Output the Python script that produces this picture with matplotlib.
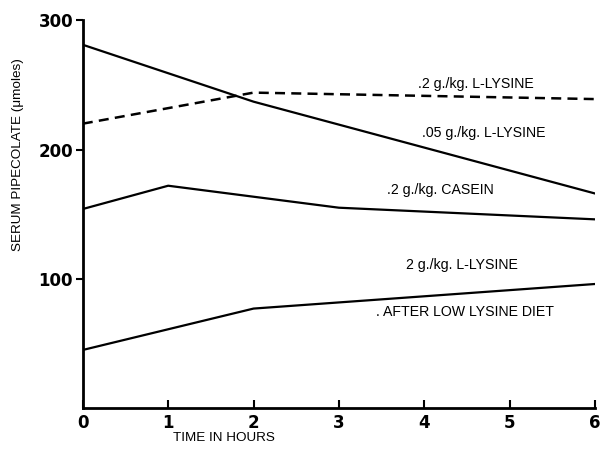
import matplotlib
matplotlib.use('Agg')
import matplotlib.pyplot as plt

# serum pipecolate (umoles) vs time in hours
hrs_05 = [0, 2, 6]
val_05 = [281, 237, 166]

hrs_2lys = [0, 2, 6]
val_2lys = [220, 244, 239]

hrs_cas = [0, 1, 3, 6]
val_cas = [154, 172, 155, 146]

hrs_low = [0, 2, 6]
val_low = [45, 77, 96]

labels = ['.2 g./kg. L-LYSINE', '.05 g./kg. L-LYSINE', '.2 g./kg. CASEIN',
          '2 g./kg. L-LYSINE', '. AFTER LOW LYSINE DIET']
label_x = [4.6, 4.7, 4.19, 4.44, 4.48]
label_y = [251, 213, 169, 111, 74]

fig = plt.figure(figsize=(6.09, 4.49), dpi=100)
ax = fig.add_axes([0.136, 0.091, 0.841, 0.864])

ax.plot(hrs_05, val_05, color='black', lw=1.6)
ax.plot(hrs_2lys, val_2lys, color='black', lw=1.8, ls=(0, (4, 2.5)))
ax.plot(hrs_cas, val_cas, color='black', lw=1.6)
ax.plot(hrs_low, val_low, color='black', lw=1.6)

for t, x, y in zip(labels, label_x, label_y):
  ax.text(x, y, t, ha='center', va='center', fontsize=10.2, family='Liberation Sans')

ax.set_xlim(0, 6)
ax.set_ylim(0, 300)
ax.set_xticks(range(0, 7))
ax.set_yticks([100, 200, 300])
for s in ['top', 'right']:
  ax.spines[s].set_visible(False)
for s in ['left', 'bottom']:
  ax.spines[s].set_linewidth(2)
ax.tick_params(axis='x', direction='in', length=6, width=1.5, pad=4)
ax.tick_params(axis='y', direction='out', length=5, width=1.5, pad=2)
for lab in ax.get_xticklabels() + ax.get_yticklabels():
  lab.set_fontweight('bold')
  lab.set_fontsize(12)

fig.text(0.368, 0.025, 'TIME IN HOURS', ha='center', va='center', fontsize=9.7,
         family='Liberation Sans')
fig.text(0.03, 0.655, 'SERUM PIPECOLATE (\u03bcmoles)', rotation=90, ha='center',
         va='center', fontsize=9.7, family='Liberation Sans')

fig.savefig('out.png', dpi=100)
